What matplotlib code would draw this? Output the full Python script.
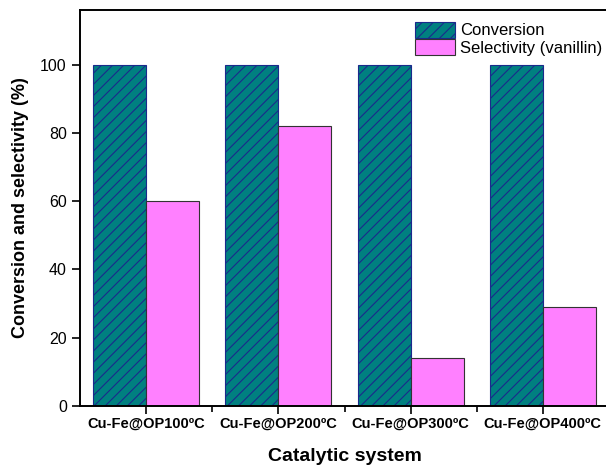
import matplotlib.pyplot as plt
import numpy as np
from matplotlib.ticker import FixedLocator

plt.rcParams['font.family'] = ['Liberation Sans', 'DejaVu Sans']
plt.rcParams['hatch.color'] = '#1a2a6c'
plt.rcParams['hatch.linewidth'] = 0.8

catalysts = ['Cu-Fe@OP100ºC', 'Cu-Fe@OP200ºC', 'Cu-Fe@OP300ºC', 'Cu-Fe@OP400ºC']
conversion = [100, 100, 100, 100]
selectivity = [60, 82, 14, 29]

fig = plt.figure(figsize=(6.06, 4.66), dpi=100)
ax = fig.add_axes([80 / 606, 60 / 466, 529 / 606, 396 / 466])

x = np.arange(len(catalysts))
w = 0.4
ax.bar(x - w / 2, conversion, w, color='#008080', edgecolor='#1a2a8c',
       hatch='///', linewidth=0.8, label='Conversion')
ax.bar(x + w / 2, selectivity, w, color='#ff80ff', edgecolor='#333333',
       linewidth=0.8, label='Selectivity (vanillin)')

ax.set_xlim(-0.5, 3.5)
ax.set_ylim(0, 116)
ax.set_yticks([0, 20, 40, 60, 80, 100])
ax.set_xticks(x)
ax.set_xticklabels(catalysts, fontweight='bold', fontsize=10.5)
ax.xaxis.set_minor_locator(FixedLocator([0.5, 1.5, 2.5]))
ax.tick_params(axis='x', which='major', direction='out', length=6, width=1.2, pad=2)
ax.tick_params(axis='x', which='minor', direction='out', length=4, width=1.2)
ax.tick_params(axis='y', direction='out', length=6, width=1.2, labelsize=11.5)

for s in ax.spines.values():
    s.set_linewidth(1.4)

ax.set_ylabel('Conversion and selectivity (%)', fontsize=13, fontweight='bold', labelpad=8)
ax.set_xlabel('Catalytic system', fontsize=14, fontweight='bold', labelpad=12)

ax.legend(loc='upper right', bbox_to_anchor=(1.01, 1.0), frameon=False, fontsize=12,
          handlelength=2.4, handleheight=1.1, labelspacing=0.05, handletextpad=0.3,
          borderaxespad=0.3)

fig.savefig('out.png', dpi=100)
